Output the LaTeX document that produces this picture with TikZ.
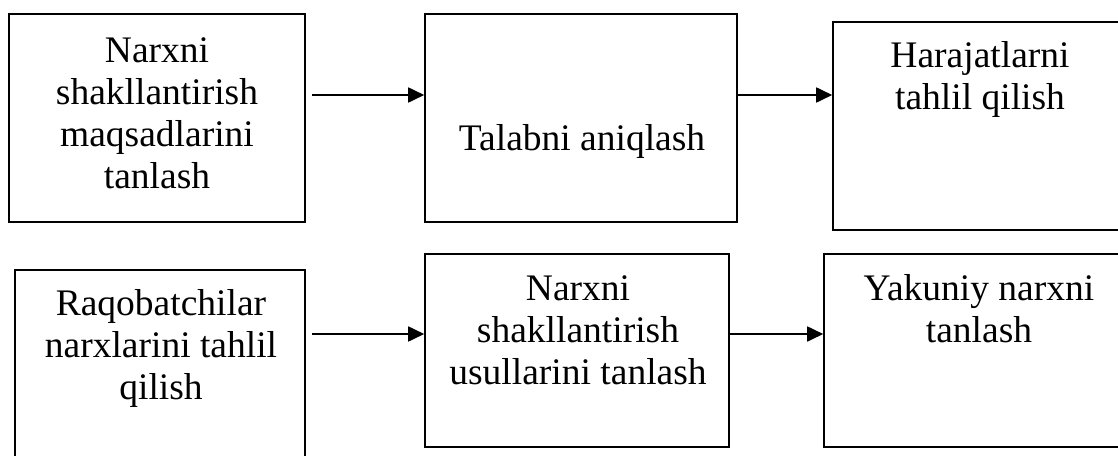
\documentclass[tikz,border=0pt]{standalone}
\usepackage{fontspec}
\setmainfont{Liberation Serif}
\usetikzlibrary{arrows.meta}
\newcommand{\boxtext}[1]{{\fontsize{37.5}{42.2}\selectfont\begin{tabular}[t]{@{}c@{}}#1\end{tabular}}}
\tikzset{
  stepbox/.style={draw=black, line width=1.6pt, rectangle, inner sep=0pt},
  label text/.style={inner sep=0pt, anchor=base},
  flow/.style={line width=1.8pt, -{Triangle[length=16pt,width=15pt]}}
}
\begin{document}
\begin{tikzpicture}[x=1pt,y=-1pt]
\useasboundingbox (0,0) rectangle (1118,455);
\clip (0,0) rectangle (1118,455);
% boxes
\node[stepbox, minimum width=296pt, minimum height=208pt] (b1) at (157,118) {};
\node[stepbox, minimum width=312pt, minimum height=208pt] (b2) at (581,118) {};
\node[stepbox, minimum width=297pt, minimum height=208pt] (b3) at (981.5,126) {};
\node[stepbox, minimum width=290pt, minimum height=200pt] (b4) at (160,370) {};
\node[stepbox, minimum width=304pt, minimum height=193pt] (b5) at (577,350.5) {};
\node[stepbox, minimum width=306pt, minimum height=193pt] (b6) at (977,350.5) {};
% texts
\node[label text] (t1) at (157,62) {\boxtext{Narxni\\shakllantirish\\maqsadlarini\\tanlash}};
\node[label text] (t2) at (582,150) {\boxtext{Talabni aniqlash}};
\node[label text] (t3) at (980,67) {\boxtext{Harajatlarni\\tahlil qilish}};
\node[label text] (t4) at (161,315) {\boxtext{Raqobatchilar\\narxlarini tahlil\\qilish}};
\node[label text] (t5) at (578,300) {\boxtext{Narxni\\shakllantirish\\usullarini tanlash}};
\node[label text] (t6) at (979,300) {\boxtext{Yakuniy narxni\\tanlash}};
% arrows
\coordinate (a1) at (312,95);
\coordinate (a2) at (737,95);
\coordinate (a3) at (312,334);
\coordinate (a4) at (729,334);
\draw[flow] (a1) -- (a1 -| b2.west);
\draw[flow] (a2) -- (a2 -| b3.west);
\draw[flow] (a3) -- (a3 -| b5.west);
\draw[flow] (a4) -- (a4 -| b6.west);
\end{tikzpicture}
\end{document}
